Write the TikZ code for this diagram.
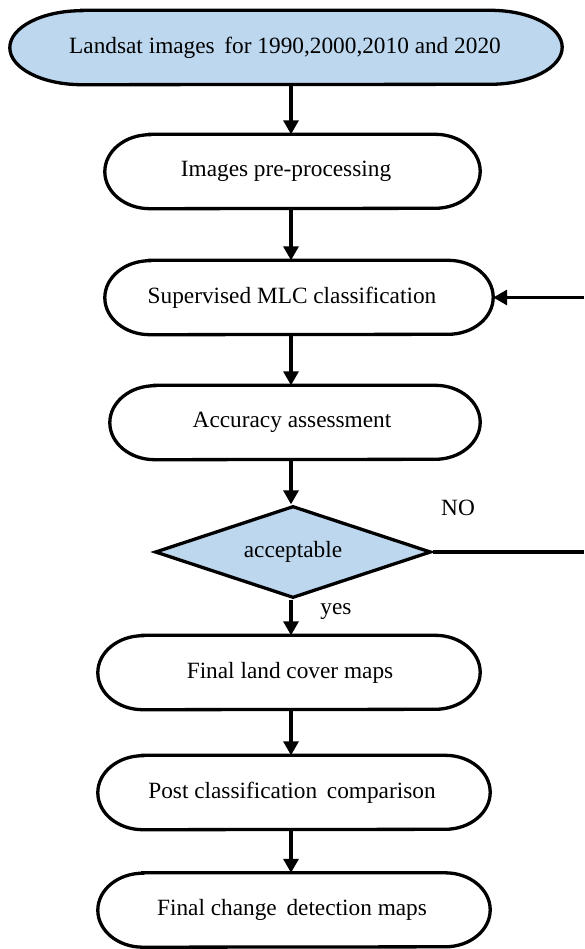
\documentclass[tikz,border=0pt]{standalone}
\usepackage{fontspec}
\setmainfont{Liberation Serif}
\usetikzlibrary{arrows.meta,shapes.geometric}
\definecolor{lblue}{HTML}{BDD7EE}
\newcommand\stadoutline[3]{% name, x radius, fill colour
  \draw[line width=3.3pt,fill=#3] ([xshift=#2]#1.north west) -- ([xshift=-#2]#1.north east)
    arc[start angle=90,end angle=-90,x radius=#2,y radius=37pt]
    -- ([xshift=#2]#1.south west)
    arc[start angle=270,end angle=90,x radius=#2,y radius=37pt] -- cycle;}
\begin{document}
\begin{tikzpicture}[x=1pt,y=-1pt,
  boxn/.style={rectangle,inner sep=0pt,minimum height=74pt,font=\fontsize{23.3}{27}\selectfont},
  arr/.style={line width=3.3pt,-{Triangle[length=14pt,width=15pt]}},
  lbl/.style={font=\fontsize{23.3}{27}\selectfont,inner sep=0pt}]
\useasboundingbox (0,0) rectangle (584,949);
\path (286,47.5) node[boxn,minimum width=552pt] (top) {\phantom{x}};
\path (292.5,171.5) node[boxn,minimum width=375pt] (pre) {\phantom{x}};
\path (299,297.5) node[boxn,minimum width=388pt] (sup) {\phantom{x}};
\path (295,422.5) node[boxn,minimum width=370pt] (acc) {\phantom{x}};
\path (289,672.5) node[boxn,minimum width=382pt] (fin) {\phantom{x}};
\path (294,792.5) node[boxn,minimum width=392pt] (post) {\phantom{x}};
\path (294,910) node[boxn,minimum width=392pt] (chg) {\phantom{x}};
\stadoutline{top}{72pt}{lblue}
\stadoutline{pre}{45pt}{white}
\stadoutline{sup}{45pt}{white}
\stadoutline{acc}{45pt}{white}
\stadoutline{fin}{45pt}{white}
\stadoutline{post}{45pt}{white}
\stadoutline{chg}{45pt}{white}
\node[lbl] at (285,47.5) {Landsat images\, for 1990,2000,2010 and 2020};
\node[lbl] at (286,171.5) {Images pre-processing};
\node[lbl] at (292,297.5) {Supervised MLC classification};
\node[lbl] at (292,422.5) {Accuracy assessment};
\node[lbl] at (290,672.5) {Final land cover maps};
\node[lbl] at (292,792.5) {Post classification\, comparison};
\node[lbl] at (292,910) {Final change\, detection maps};
\node[diamond,draw,line width=3.3pt,fill=lblue,minimum width=276pt,minimum height=92pt,
  inner sep=0pt,aspect=3,font=\fontsize{23.3}{27}\selectfont] (dia) at (293,552) {acceptable};
\coordinate (col) at (291,0);
\coordinate (e1) at (584,552);
\coordinate (e2) at (584,297.5);
\draw[arr] (top.south -| col) -- (pre.north -| col);
\draw[arr] (pre.south -| col) -- (sup.north -| col);
\draw[arr] (sup.south -| col) -- (acc.north -| col);
\draw[arr] (acc.south -| col) -- (dia.north -| col);
\draw[arr] (dia.south -| col) -- (fin.north -| col);
\draw[arr] (fin.south -| col) -- (post.north -| col);
\draw[arr] (post.south -| col) -- (chg.north -| col);
\draw[line width=3.3pt] (dia.east) -- (e1);
\draw[arr] (e2) -- (sup.east);
\node[lbl] (no) at (458,508) {NO};
\node[lbl] (yes) at (336,612) {yes};
\end{tikzpicture}
\end{document}
